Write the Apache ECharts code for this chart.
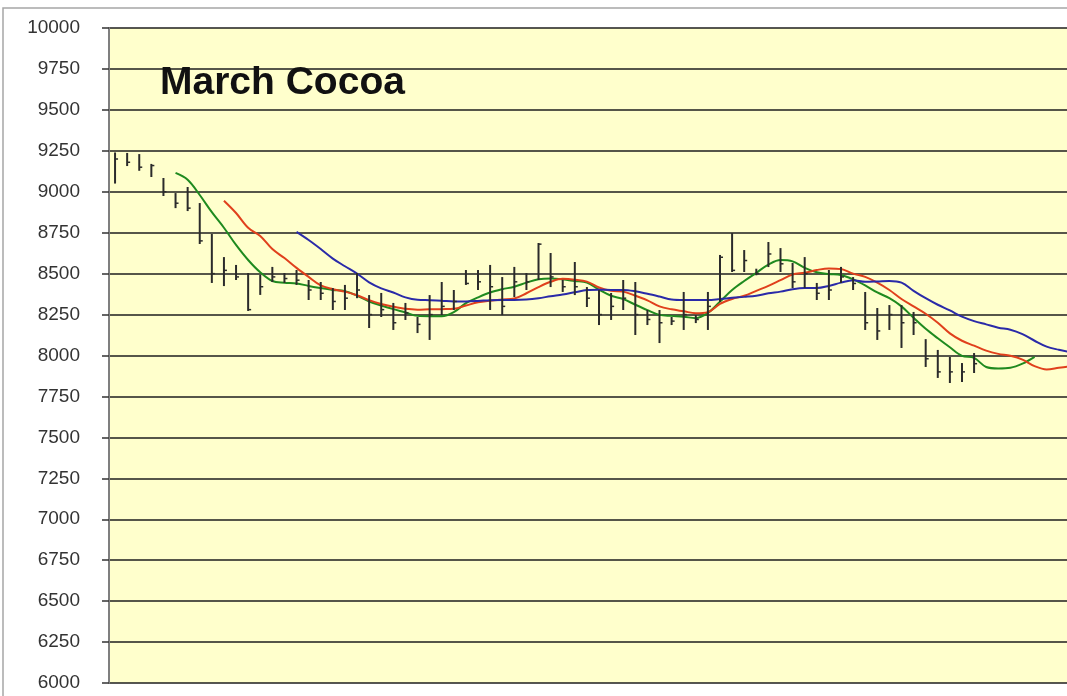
<!DOCTYPE html>
<html>
<head>
<meta charset="utf-8">
<script src="https://cdn.jsdelivr.net/npm/echarts@6/dist/echarts.min.js"></script>
<style>
html,body{margin:0;padding:0;background:#ffffff;}
#chart{width:1067px;height:696px;}
</style>
</head>
<body>
<div id="chart"></div>
<script>
// ---- data ----
const title = 'March Cocoa';
const yTicks = [6000,6250,6500,6750,7000,7250,7500,7750,8000,8250,8500,8750,9000,9250,9500,9750,10000];
// trading-day index of each bar / MA point: 0 .. 79
const highs = [9240,9237,9230,9170,9084,8992,9029,8931,8742,8601,8553,8504,8492,8541,8504,8522,8461,8449,8412,8431,8504,8369,8382,8321,8321,8235,8369,8449,8400,8522,8522,8553,8479,8541,8504,8687,8626,8461,8571,8418,8400,8382,8461,8449,8278,8278,8235,8388,8247,8388,8614,8748,8644,8530,8693,8656,8565,8601,8443,8522,8541,8479,8388,8290,8308,8308,8266,8100,8034,7991,7954,8015];
const lows = [9050,9157,9128,9090,8974,8900,8882,8681,8443,8424,8461,8272,8370,8449,8443,8431,8339,8339,8278,8278,8350,8168,8235,8156,8217,8137,8095,8247,8278,8431,8400,8278,8247,8357,8400,8461,8418,8388,8369,8296,8186,8217,8278,8125,8186,8076,8186,8156,8198,8156,8327,8510,8510,8490,8540,8510,8412,8412,8339,8339,8443,8400,8156,8095,8156,8046,8125,7930,7863,7832,7838,7893];
const closes = [9200,9180,9150,9160,9000,8930,8900,8700,8500,8520,8480,8280,8420,8480,8470,8460,8400,8380,8330,8350,8400,8250,8280,8200,8260,8190,8250,8300,8330,8440,8450,8420,8300,8450,8450,8680,8480,8420,8420,8350,8250,8300,8350,8250,8220,8200,8210,8250,8220,8300,8600,8520,8580,8500,8620,8560,8450,8500,8380,8400,8480,8440,8200,8150,8250,8200,8200,7980,7900,7900,7900,7950];
const greenMA = [null,null,null,null,null,9115,9073,8980,8875,8780,8675,8583,8508,8455,8445,8440,8425,8412,8400,8393,8365,8330,8305,8283,8263,8242,8240,8240,8265,8320,8355,8385,8405,8420,8445,8465,8470,8465,8455,8445,8402,8365,8345,8310,8277,8248,8242,8237,8228,8260,8329,8400,8455,8505,8555,8583,8575,8535,8508,8498,8492,8465,8428,8385,8350,8300,8230,8163,8105,8050,7998,7985,7930,7921,7925,7950,7992,null,null,null];
const redMA = [null,null,null,null,null,null,null,null,null,8945,8870,8780,8730,8650,8595,8535,8480,8428,8405,8390,8368,8338,8315,8298,8285,8280,8282,8283,8285,8305,8325,8335,8342,8348,8380,8418,8450,8468,8463,8451,8415,8395,8390,8365,8337,8300,8282,8270,8258,8265,8315,8345,8365,8395,8425,8460,8495,8505,8522,8532,8528,8500,8480,8445,8400,8345,8300,8255,8200,8135,8090,8060,8030,8010,7998,7975,7935,7915,7925,7935];
const blueMA = [null,null,null,null,null,null,null,null,null,null,null,null,null,null,null,8755,8705,8650,8592,8545,8500,8447,8410,8385,8355,8340,8338,8335,8330,8330,8333,8338,8339,8339,8342,8350,8362,8372,8386,8400,8402,8400,8400,8392,8377,8360,8342,8339,8339,8339,8345,8352,8358,8365,8380,8390,8405,8412,8412,8425,8445,8460,8450,8452,8455,8445,8395,8350,8310,8275,8237,8210,8190,8170,8157,8130,8090,8054,8035,8020];

const hlc = highs.map((h, i) => [i, h, lows[i], closes[i]]);
const pairs = arr => arr.map((v, i) => [i, v]).filter(p => p[1] !== null);

const chart = echarts.init(document.getElementById('chart'), null, {renderer: 'canvas'});
const option = {
  animation: false,
  backgroundColor: '#ffffff',
  title: {
    text: title,
    left: 155, top: 59,
    textStyle: {fontFamily: 'Liberation Sans, Arial, sans-serif', fontSize: 39, fontWeight: 'bold', color: '#111'}
  },
  graphic: [{
    type: 'rect', z: -10, silent: true,
    shape: {x: 3, y: 8, width: 1200, height: 800},
    style: {fill: 'none', stroke: '#a6a6a6', lineWidth: 1.5}
  }],
  grid: {
    left: 109, top: 28, right: 0, bottom: 13,
    show: true, backgroundColor: '#FFFFCC', borderWidth: 0
  },
  xAxis: {
    type: 'value', min: -0.5, max: 78.68,
    axisLine: {show: false, onZero: false}, axisTick: {show: false}, axisLabel: {show: false}, splitLine: {show: false}
  },
  yAxis: {
    type: 'value', min: yTicks[0], max: yTicks[yTicks.length - 1], interval: 250,
    axisLine: {show: true, onZero: false, lineStyle: {color: '#7f7f7f', width: 2}},
    axisTick: {show: true, length: 7, lineStyle: {color: '#333', width: 1.5}},
    axisLabel: {margin: 29, color: '#333', fontFamily: 'Liberation Sans, Arial, sans-serif', fontSize: 19,
                formatter: function (v) { return String(v); }},
    splitLine: {show: true, lineStyle: {color: '#1e1e1e', width: 1.6}}
  },
  series: [
    {type: 'line', data: pairs(greenMA), symbol: 'none', smooth: 0.35, z: 3, clip: true,
     lineStyle: {color: '#1f8a1f', width: 2}},
    {type: 'line', data: pairs(redMA), symbol: 'none', smooth: 0.35, z: 3, clip: true,
     lineStyle: {color: '#e0401c', width: 2}},
    {type: 'line', data: pairs(blueMA), symbol: 'none', smooth: 0.35, z: 3, clip: true,
     lineStyle: {color: '#2a2aa8', width: 2}},
    {type: 'custom', z: 5, data: hlc,
     renderItem: function (params, api) {
       const x = api.value(0);
       const top = api.coord([x, api.value(1)]);
       const bot = api.coord([x, api.value(2)]);
       const cl = api.coord([x, api.value(3)]);
       const st = {stroke: '#2b2b2b', lineWidth: 2};
       return {type: 'group', children: [
         {type: 'line', shape: {x1: top[0], y1: top[1], x2: bot[0], y2: bot[1]}, style: st},
         {type: 'line', shape: {x1: cl[0], y1: cl[1], x2: cl[0] + 3, y2: cl[1]}, style: {stroke: '#2b2b2b', lineWidth: 1.5}}
       ]};
     }}
  ]
};
chart.setOption(option);
</script>
</body>
</html>
